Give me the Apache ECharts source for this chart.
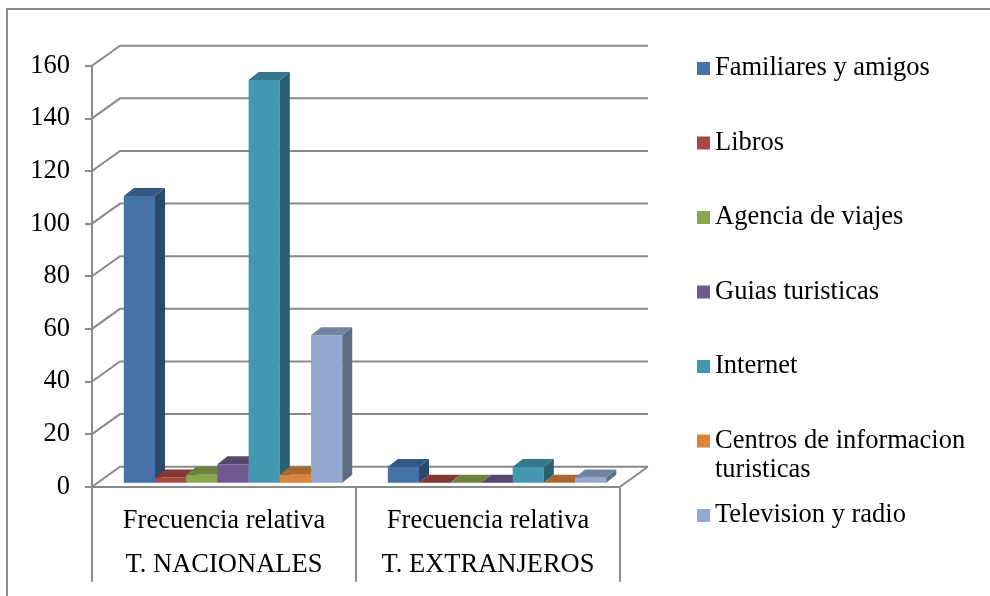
<!DOCTYPE html>
<html>
<head>
<meta charset="utf-8">
<script src="https://cdn.jsdelivr.net/npm/echarts@6/dist/echarts.min.js"></script>
<style>
  html, body { margin: 0; padding: 0; background: #ffffff; }
  #chart { width: 990px; height: 596px; }
</style>
</head>
<body>
<div id="chart"></div>
<script>
// Category labels (two lines per group)
const measureLabels = ['Frecuencia relativa', 'Frecuencia relativa'];
const groupLabels = ['T. NACIONALES', 'T. EXTRANJEROS'];

// Series names, in legend order
const seriesNames = [
  'Familiares y amigos',
  'Libros',
  'Agencia de viajes',
  'Guias turisticas',
  'Internet',
  'Centros de informacion turisticas',
  'Television y radio'
];

// Values per group: [T. NACIONALES, T. EXTRANJEROS]
const familiares = [109, 6];
const libros = [2, 0];
const agencia = [3, 0];
const guias = [7, 0];
const internet = [153, 6];
const centros = [3, 0];
const television = [56, 2];

// Value axis ticks
const yTicks = [0, 20, 40, 60, 80, 100, 120, 140, 160];

const seriesValues = [familiares, libros, agencia, guias, internet, centros, television];
const seriesColors = ['#4572A7', '#AA4643', '#89A54E', '#71588F', '#4198AF', '#DB843D', '#93A9CF'];

const FONT = '"Liberation Serif", "Times New Roman", serif';
const FONT_SIZE = 26.5;
const LINE = '#8a8a8a';
const DEPTH_X = 28, DEPTH_Y = -20;   // wall depth
const BAR_DX = 10, BAR_DY = -8;      // bar depth
const BAR_LIFT = 4;                  // bar plane sits slightly behind the front floor edge

function shade(hex, f) {
  const n = parseInt(hex.slice(1), 16);
  const r = Math.round(((n >> 16) & 255) * f);
  const g = Math.round(((n >> 8) & 255) * f);
  const b = Math.round((n & 255) * f);
  return 'rgb(' + r + ',' + g + ',' + b + ')';
}

// Walls: side-wall diagonals + back-wall gridlines, and floor right edge
function wallRenderer(params, api) {
  const cs = params.coordSys;
  const v = api.value(1);
  const y = api.coord([0, v])[1];
  const children = [{
    type: 'polyline',
    shape: { points: [[cs.x, y], [cs.x + DEPTH_X, y + DEPTH_Y], [cs.x + cs.width + DEPTH_X, y + DEPTH_Y]] },
    style: { stroke: LINE, lineWidth: 2, fill: null }
  }];
  if (v === 0) {
    children.push({
      type: 'line',
      shape: { x1: cs.x + cs.width, y1: y, x2: cs.x + cs.width + DEPTH_X, y2: y + DEPTH_Y },
      style: { stroke: LINE, lineWidth: 2 }
    });
  }
  return { type: 'group', children: children };
}

// 3D-look column: front face, right side face and top face
function barRenderer(sIdx, color) {
  return function (params, api) {
    const ci = api.value(0);
    const v = api.value(1);
    const band = api.size([1, 0])[0];
    const base = api.coord([ci, 0]);
    const top = api.coord([ci, v]);
    const bw = band * 0.1182;
    const x0 = base[0] - band / 2 + band * 0.1205 + sIdx * bw;
    const x1 = x0 + bw;
    const yb = base[1] - BAR_LIFT;
    const yt = top[1] - BAR_LIFT;
    return {
      type: 'group',
      children: [
        {
          type: 'rect',
          shape: { x: x0, y: yt, width: bw, height: yb - yt },
          style: { fill: color }
        },
        {
          type: 'polygon',
          shape: { points: [[x1, yt], [x1 + BAR_DX, yt + BAR_DY], [x1 + BAR_DX, yb + BAR_DY], [x1, yb]] },
          style: { fill: shade(color, 0.64) }
        },
        {
          type: 'polygon',
          shape: { points: [[x0, yt], [x0 + BAR_DX, yt + BAR_DY], [x1 + BAR_DX, yt + BAR_DY], [x1, yt]] },
          style: { fill: shade(color, 0.78) }
        }
      ]
    };
  };
}

const chart = echarts.init(document.getElementById('chart'));

const series = [{
  name: 'walls',
  type: 'custom',
  silent: true,
  z: 1,
  renderItem: wallRenderer,
  encode: { x: 0, y: 1 },
  data: yTicks.map(v => [0, v])
}];

seriesNames.forEach((name, i) => {
  series.push({
    name: name,
    type: 'custom',
    z: 2,
    itemStyle: { color: seriesColors[i] },
    renderItem: barRenderer(i, seriesColors[i]),
    encode: { x: 0, y: 1 },
    data: seriesValues[i].map((v, ci) => [ci, v])
  });
});

chart.setOption({
  animation: false,
  backgroundColor: '#ffffff',
  grid: {
    left: 92,
    top: 65.7,
    width: 528,
    height: 421,
    containLabel: false,
    outerBoundsMode: 'none'
  },
  xAxis: {
    type: 'category',
    data: measureLabels.map((m, i) => m + '\n' + groupLabels[i]),
    boundaryGap: true,
    axisLine: { show: true, lineStyle: { color: LINE, width: 2 } },
    axisTick: { show: true, length: 95, alignWithLabel: false, interval: 0, lineStyle: { color: LINE, width: 2 } },
    axisLabel: {
      interval: 0,
      margin: 12,
      color: '#000',
      fontSize: FONT_SIZE,
      lineHeight: 44,
      fontFamily: FONT
    },
    splitLine: { show: false }
  },
  yAxis: {
    type: 'value',
    min: 0,
    max: 160,
    interval: 20,
    axisLine: { show: true, lineStyle: { color: LINE, width: 2 } },
    axisTick: { show: true, length: 7, lineStyle: { color: LINE, width: 2 } },
    axisLabel: { margin: 22, color: '#000', fontSize: FONT_SIZE, fontFamily: FONT },
    splitLine: { show: false }
  },
  legend: {
    orient: 'vertical',
    left: 692,
    top: 48.5,
    itemWidth: 13,
    itemHeight: 13,
    itemGap: 44.5,
    icon: 'rect',
    data: seriesNames,
    formatter: function (name) {
      return name === 'Centros de informacion turisticas' ? 'Centros de informacion' : name;
    },
    textStyle: { color: '#000', fontSize: FONT_SIZE, lineHeight: 30, fontFamily: FONT },
    selectedMode: false
  },
  graphic: [
    {
      type: 'rect',
      silent: true,
      shape: { x: 7, y: 9, width: 1000, height: 600 },
      style: { fill: null, stroke: LINE, lineWidth: 2 }
    },
    {
      type: 'text',
      silent: true,
      x: 715,
      y: 470.5,
      style: { text: 'turisticas', fill: '#000', fontSize: FONT_SIZE, fontFamily: FONT, verticalAlign: 'middle' }
    }
  ],
  series: series
});
</script>
</body>
</html>
